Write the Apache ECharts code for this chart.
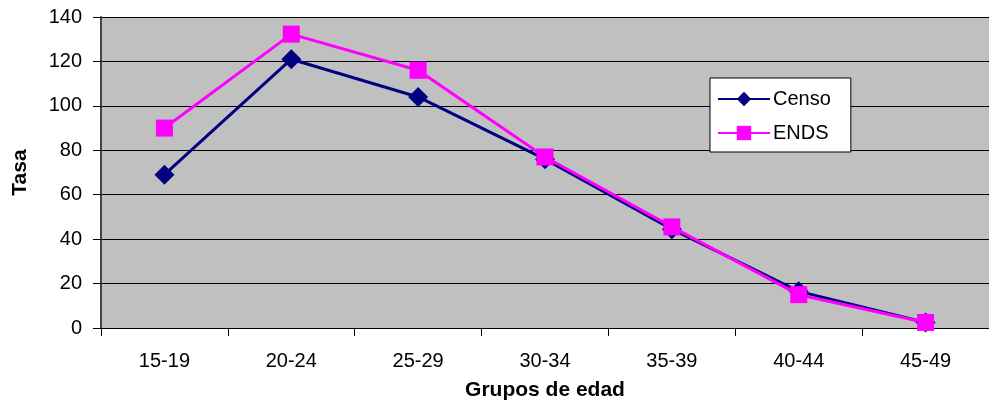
<!DOCTYPE html>
<html><head><meta charset="utf-8">
<script src="https://cdn.jsdelivr.net/npm/echarts@6/dist/echarts.min.js"></script>
<style>html,body{margin:0;padding:0;background:#fff}#c{width:989px;height:406px}</style>
</head><body><div id="c"></div>
<script>
const categories = ['15-19','20-24','25-29','30-34','35-39','40-44','45-49'];
const censo = [69, 121, 104, 76, 44.5, 16.5, 2.5];
const ends = [90, 132.3, 116, 77, 45.5, 15, 2.5];
const yTicks = [0, 20, 40, 60, 80, 100, 120, 140];

const chart = echarts.init(document.getElementById('c'));
const F = 'Arial, "Liberation Sans", sans-serif';
chart.setOption({
  animation: false,
  backgroundColor: '#fff',
  grid: { left: 101, top: 17, right: 0, bottom: 78, backgroundColor: '#c0c0c0', show: true, borderWidth: 0,
          containLabel: false, outerBoundsMode: 'none' },
  legend: {
    data: ['Censo', 'ENDS'],
    orient: 'vertical', left: 710, top: 78,
    width: 140,
    backgroundColor: '#fff', borderColor: '#000', borderWidth: 1,
    padding: [11, 20, 9, 7],
    itemGap: 14, itemWidth: 52, itemHeight: 18,
    textStyle: { fontFamily: F, fontSize: 20, color: '#000', padding: [0,0,0,-2] }
  },
  xAxis: {
    type: 'category', data: categories, boundaryGap: true,
    name: 'Grupos de edad', nameLocation: 'middle', nameGap: 62, nameMoveOverlap: false,
    nameTextStyle: { fontFamily: F, fontSize: 21, fontWeight: 'bold', color: '#000', verticalAlign: 'middle' },
    axisLine: { lineStyle: { color: '#000', width: 1 } },
    axisTick: { show: true, length: 8, lineStyle: { color: '#000' } },
    axisLabel: { fontFamily: F, fontSize: 20, color: '#000', margin: 23 }
  },
  yAxis: {
    type: 'value', min: 0, max: 140, interval: 20,
    name: 'Tasa', nameLocation: 'middle', nameGap: 81, nameRotate: 90, nameMoveOverlap: false,
    nameTextStyle: { fontFamily: F, fontSize: 21, fontWeight: 'bold', color: '#000', verticalAlign: 'middle' },
    axisLine: { show: true, lineStyle: { color: '#444', width: 2 } },
    axisTick: { show: true, length: 8, lineStyle: { color: '#000' } },
    axisLabel: { fontFamily: F, fontSize: 20, color: '#000', margin: 19,
      formatter: v => yTicks.includes(v) ? String(v) : '' },
    splitLine: { show: true, lineStyle: { color: '#000', width: 1 } }
  },
  series: [
    { name: 'Censo', type: 'line', data: censo, symbol: 'diamond', symbolSize: 20,
      lineStyle: { color: '#000080', width: 3 }, itemStyle: { color: '#000080' }, z: 2 },
    { name: 'ENDS', type: 'line', data: ends, symbol: 'rect', symbolSize: 17,
      lineStyle: { color: '#ff00ff', width: 3 }, itemStyle: { color: '#ff00ff' }, z: 3 }
  ]
});
</script></body></html>
